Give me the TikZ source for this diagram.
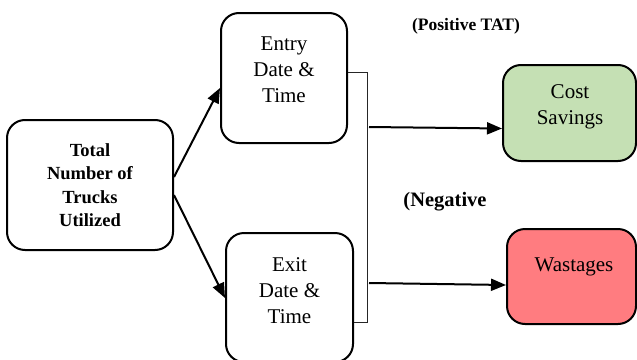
\documentclass[tikz,border=0pt]{standalone}
\usepackage{fontspec}
\setmainfont{Liberation Serif}
\usetikzlibrary{arrows.meta,calc}
\definecolor{costgreen}{HTML}{C5E0B4}
\definecolor{wastred}{HTML}{FF7C80}
\newcommand{\normsz}{\fontsize{21}{26}\selectfont}
\newcommand{\boldsz}{\fontsize{18.5}{23.5}\selectfont\bfseries}
\tikzset{
  boxnode/.style={draw=black, line width=2pt, rounded corners=18pt, inner sep=0pt},
  normtxt/.style={align=center, font=\normsz, inner sep=0pt},
  boldtxt/.style={align=center, font=\boldsz, inner sep=0pt},
  arr/.style={line width=2pt, -{Triangle[length=15pt,width=12pt]}},
  brk/.style={line width=0.9pt, draw=black!85}
}
\begin{document}
\begin{tikzpicture}[x=1pt,y=-1pt]
\useasboundingbox (0,0) rectangle (637,359);
% boxes
\node[boxnode, minimum width=166pt, minimum height=130pt] (tot) at (90,185) {};
\node[boxnode, minimum width=126pt, minimum height=130pt] (ent) at (284,78) {};
\node[boxnode, minimum width=127pt, minimum height=129pt] (exi) at (289.5,297.5) {};
\node[boxnode, fill=costgreen, minimum width=133pt, minimum height=96pt] (cost) at (569.5,113) {};
\node[boxnode, fill=wastred, minimum width=129pt, minimum height=95pt] (wast) at (571.5,276.5) {};
% texts
\node[boldtxt] (tottxt) at (90,185) {Total\\Number of\\Trucks\\Utilized};
\node[normtxt] (enttxt) at (284,70) {Entry\\Date \&\\Time};
\node[normtxt] (exitxt) at (289.5,291) {Exit\\Date \&\\Time};
\node[normtxt] (costtxt) at (570,106.5) {Cost\\Savings};
\node[normtxt] (wasttxt) at (574,267) {Wastages};
\node[boldtxt, font=\fontsize{17.5}{21}\selectfont\bfseries] (pos) at (466,26) {(Positive TAT)};
\node[boldtxt, font=\fontsize{20.5}{24}\selectfont\bfseries] (neg) at (445,202) {(Negative};
% arrows from Total
\draw[arr] ($(tot.east)+(0,-8)$) -- ($(ent.west)+(0,10)$);
\draw[arr] ($(tot.east)+(0,10)$) -- ($(exi.west)+(0,0.5)$);
% bracket
\coordinate (bt) at (367,72);
\coordinate (bb) at (367,322);
\draw[brk] ($(ent.east)+(0,-6)$) -- (bt) -- (bb) -- ($(exi.east)+(0,24.5)$);
% arrows to outcomes
\coordinate (s1) at (369,127);
\coordinate (s2) at (369,283);
\draw[arr] (s1) -- ($(cost.west)+(0,15.5)$);
\draw[arr] (s2) -- ($(wast.west)+(0,8.5)$);
\end{tikzpicture}
\end{document}
